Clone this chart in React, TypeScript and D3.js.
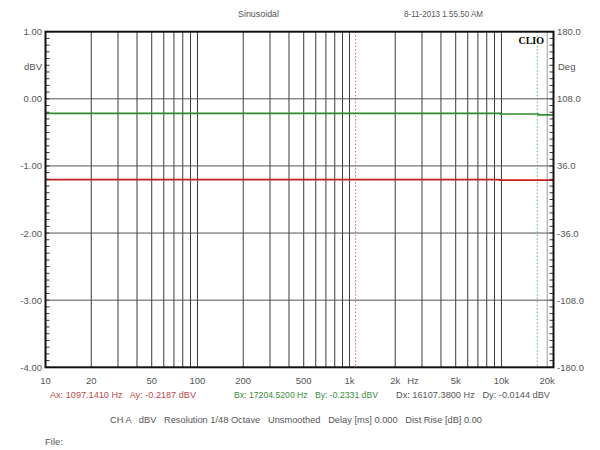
import React from "react";
import * as d3 from "d3";

const W = 600;
const H = 450;

const xTickValues = [10, 20, 50, 100, 200, 500, 1000, 2000, 5000, 10000, 20000];
const xTickLabels = ["10", "20", "50", "100", "200", "500", "1k", "2k", "5k", "10k", "20k"];
const yTickValues = [1, 0, -1, -2, -3, -4];
const yTickLabels = ["1.00", "0.00", "-1.00", "-2.00", "-3.00", "-4.00"];
const phaseTickValues = [180, 108, 36, -36, -108, -180];
const phaseTickLabels = ["180.0", "108.0", "36.0", "-36.0", "-108.0", "-180.0"];

const greenFreq = [10, 9700, 9800, 17300, 17500, 22000];
const greenDb = [-0.216, -0.216, -0.226, -0.226, -0.238, -0.238];
const redFreq = [10, 9500, 9700, 22000];
const redDb = [-1.205, -1.205, -1.212, -1.212];

const cursorA = 1097.141;
const cursorB = 17204.52;

const M = { left: 45.5, right: 553.5, top: 31.7, bottom: 367.3 };

export default function App() {
  const x = d3.scaleLog().domain([10, 22000]).range([M.left, M.right]);
  const y = d3.scaleLinear().domain([1, -4]).range([M.top, M.bottom]);
  const yp = d3.scaleLinear().domain([180, -180]).range([M.top, M.bottom]);

  const gridFreqs: number[] = [];
  for (let dec = 10; dec < 22000; dec *= 10) {
    for (let k = 1; k <= 9; k++) {
      const f = dec * k;
      if (f > 10 && f <= 20000) gridFreqs.push(f);
    }
  }

  const line = d3
    .line<[number, number]>()
    .x((d) => x(d[0]))
    .y((d) => y(d[1]))
    .curve(d3.curveStepAfter);

  const greenPts = greenFreq.map((f, i) => [f, greenDb[i]] as [number, number]);
  const redPts = redFreq.map((f, i) => [f, redDb[i]] as [number, number]);

  const minorTicks = d3.range(0, 51).map((i) => 1 - i * 0.1);

  const font = "'Liberation Sans', Arial, sans-serif";
  const fs = 9.5;
  const txt = "#555";
  const pre = { whiteSpace: "pre" as const };

  return (
    <svg
      width={W}
      height={H}
      style={{ position: "absolute", left: 0, top: 0, background: "#fff" }}
      fontFamily={font}
      fontSize={fs}
    >
      <rect x={0} y={0} width={W} height={H} fill="#fff" />
      <text x={238} y={17} fill={txt} textLength={41} lengthAdjust="spacingAndGlyphs">Sinusoidal</text>
      <text x={404} y={17} fill={txt} textLength={79} lengthAdjust="spacingAndGlyphs">8-11-2013 1.55.50 AM</text>

      {/* vertical grid */}
      {gridFreqs.map((f) => (
        <line
          key={"v" + f}
          x1={x(f)}
          x2={x(f)}
          y1={M.top}
          y2={M.bottom}
          stroke={f === 20000 ? "#9a9a9a" : "#3a3a3a"}
          strokeWidth={1}
        />
      ))}
      {/* horizontal grid */}
      {yTickValues.slice(1, 5).map((v) => (
        <line
          key={"h" + v}
          x1={M.left}
          x2={M.right}
          y1={y(v)}
          y2={y(v)}
          stroke="#555"
          strokeWidth={1}
        />
      ))}

      {/* cursors */}
      <line x1={x(cursorA)} x2={x(cursorA)} y1={M.top} y2={M.bottom} stroke="#d86060" strokeWidth={1} strokeDasharray="1.5,2" />
      <line x1={x(cursorB)} x2={x(cursorB)} y1={M.top} y2={M.bottom} stroke="#60b060" strokeWidth={1} strokeDasharray="1.5,2" />

      {/* traces */}
      <path d={line(redPts) || ""} fill="none" stroke="#c81e1e" strokeWidth={1.7} />
      <path d={line(greenPts) || ""} fill="none" stroke="#2e8b2e" strokeWidth={1.7} />

      {/* minor ticks */}
      {minorTicks.map((v, i) => (
        <g key={"t" + i}>
          <line x1={M.left} x2={M.left + 4} y1={y(v)} y2={y(v)} stroke="#333" strokeWidth={1} />
          <line x1={M.right - 4} x2={M.right} y1={y(v)} y2={y(v)} stroke="#333" strokeWidth={1} />
        </g>
      ))}

      {/* frame */}
      <rect
        x={M.left}
        y={M.top}
        width={M.right - M.left}
        height={M.bottom - M.top}
        fill="none"
        stroke="#111"
        strokeWidth={2}
      />

      <text x={544} y={44} textAnchor="end" fontFamily="'Liberation Serif', 'DejaVu Serif', serif" fontWeight="bold" fontSize={10} fill="#000">CLIO</text>

      {/* left axis labels */}
      {yTickValues.map((v, i) => (
        <text key={"yl" + i} x={42} y={y(v) + 3.5} textAnchor="end" fill={txt}>
          {yTickLabels[i]}
        </text>
      ))}
      <text x={42} y={70} textAnchor="end" fill={txt}>dBV</text>

      {/* right axis labels */}
      {phaseTickValues.map((v, i) => (
        <text key={"yr" + i} x={557} y={yp(v) + 3.5} textAnchor="start" fill={txt}>
          {phaseTickLabels[i]}
        </text>
      ))}
      <text x={558} y={70} textAnchor="start" fill={txt}>Deg</text>

      {/* x labels */}
      {xTickValues.map((f, i) => (
        <text key={"xl" + i} x={x(f)} y={384} textAnchor="middle" fill={txt}>
          {xTickLabels[i]}
        </text>
      ))}
      <text x={413} y={384} textAnchor="middle" fill={txt}>Hz</text>

      {/* cursor readouts */}
      <text x={50} y={398} fill="#c04848" style={pre} textLength={146} lengthAdjust="spacingAndGlyphs">{"Ax: 1097.1410 Hz   Ay: -0.2187 dBV"}</text>
      <text x={234} y={398} fill="#3c8c3c" style={pre} textLength={144} lengthAdjust="spacingAndGlyphs">{"Bx: 17204.5200 Hz   By: -0.2331 dBV"}</text>
      <text x={396} y={398} fill={txt} style={pre} textLength={154} lengthAdjust="spacingAndGlyphs">{"Dx: 16107.3800 Hz   Dy: -0.0144 dBV"}</text>

      <text x={110} y={423} fill={txt} style={pre} textLength={372} lengthAdjust="spacingAndGlyphs">
        {"CH A   dBV   Resolution 1/48 Octave   Unsmoothed   Delay [ms] 0.000   Dist Rise [dB] 0.00"}
      </text>
      <text x={45} y={445} fill={txt}>File:</text>
    </svg>
  );
}
